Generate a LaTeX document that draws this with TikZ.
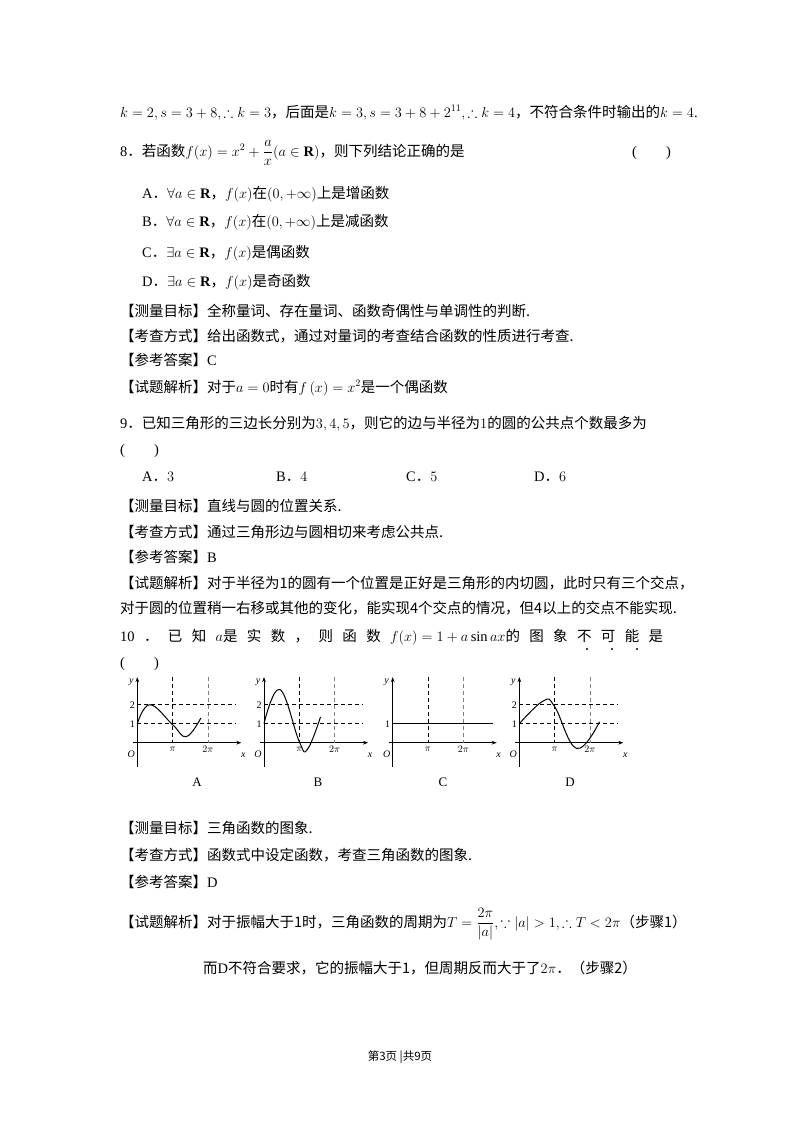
\documentclass[tikz,border=0pt]{standalone}
\usepackage{amsmath,amssymb}
\usepackage{fontspec}
\setmainfont{Liberation Serif}
\newfontfamily\cjk{Noto Sans CJK SC}
\newcommand\zh[1]{{\cjk #1}}
\usetikzlibrary{arrows.meta}
\begin{document}
\begin{tikzpicture}[x=1pt,y=-1pt,
  txt/.style={anchor=base west,inner sep=0pt,font=\fontsize{14.5}{17}\selectfont},
  dsh/.style={dashed,line width=0.8pt,dash pattern=on 4pt off 3pt},
  ldsh/.style={dashed,line width=0.5pt,gray,dash pattern=on 4pt off 3pt},
  ax/.style={line width=0.8pt,-{Stealth[length=5pt]}},
  crv/.style={line width=1pt},
  gl/.style={inner sep=0pt,font=\fontsize{10}{12}\itshape}]
\useasboundingbox (0,0) rectangle (800,1132);
\node[txt] (l1) at (120,117) {$k=2,s=3+8,\therefore k=3$\zh{，后面是}$k=3,s=3+8+2^{11},\therefore k=4$\zh{，不符合条件时输出的}$k=4$.};
\node[txt] (q8) at (120,156) {8\zh{．若函数}$f(x)=x^2+\dfrac{a}{x}(a\in\mathbf R)$\zh{，则下列结论正确的是}};
\node[txt] (q8p) at (632,156) {(\qquad)};
\node[txt] (o8a) at (142,198) {A\zh{．}$\forall a\in\mathbf R$\zh{，}$f(x)$\zh{在}$(0,+\infty)$\zh{上是增函数}};
\node[txt] (o8b) at (142,226) {B\zh{．}$\forall a\in\mathbf R$\zh{，}$f(x)$\zh{在}$(0,+\infty)$\zh{上是减函数}};
\node[txt] (o8c) at (142,257) {C\zh{．}$\exists a\in\mathbf R$\zh{，}$f(x)$\zh{是偶函数}};
\node[txt] (o8d) at (142,286) {D\zh{．}$\exists a\in\mathbf R$\zh{，}$f(x)$\zh{是奇函数}};
\node[txt] (m8) at (120,316) {\zh{【测量目标】全称量词、存在量词、函数奇偶性与单调性的判断.}};
\node[txt] (k8) at (120,341) {\zh{【考查方式】给出函数式，通过对量词的考查结合函数的性质进行考查.}};
\node[txt] (a8) at (120,365) {\zh{【参考答案】}C};
\node[txt] (s8) at (120,392) {\zh{【试题解析】对于}$a=0$\zh{时有}$f\left(x\right)=x^2$\zh{是一个偶函数}};
\node[txt] (q9) at (120,428) {9\zh{．已知三角形的三边长分别为}$3,4,5$\zh{，则它的边与半径为}$1$\zh{的圆的公共点个数最多为}};
\node[txt] (q9p) at (120,454) {(\qquad)};
\node[txt] (o9a) at (142,481) {A\zh{．}$3$};
\node[txt] (o9b) at (276,481) {B\zh{．}$4$};
\node[txt] (o9c) at (406,481) {C\zh{．}$5$};
\node[txt] (o9d) at (534,481) {D\zh{．}$6$};
\node[txt] (m9) at (120,511) {\zh{【测量目标】直线与圆的位置关系.}};
\node[txt] (k9) at (120,537) {\zh{【考查方式】通过三角形边与圆相切来考虑公共点.}};
\node[txt] (a9) at (120,562) {\zh{【参考答案】}B};
\node[txt] (s9) at (120,588) {\zh{【试题解析】对于半径为1的圆有一个位置是正好是三角形的内切圆，此时只有三个交点，}};
\node[txt] (s9b) at (120,613) {\zh{对于圆的位置稍一右移或其他的变化，能实现4个交点的情况，但4以上的交点不能实现.}};
\node[txt] (q10) at (120,641) {\makebox[543pt][s]{10\hfill \zh{．}\hfill \zh{已}\hfill\zh{知}\hfill $a$\zh{是}\hfill\zh{实}\hfill\zh{数}\hfill\zh{，}\hfill\zh{则}\hfill\zh{函}\hfill\zh{数}\hfill $f(x)=1+a\sin ax$\zh{的}\hfill\zh{图}\hfill\zh{象}\hfill\zh{不}\hfill\zh{可}\hfill\zh{能}\hfill\zh{是}}};
\foreach \dx in {587,612,637} \fill (\dx,649) circle (1.2pt);
\node[txt] (q10p) at (120,667) {(\qquad)};
% graphs
\foreach \ox/\nm/\lab/\lx in {137.3/A/A/197,264/B/B/318,392.7/C/C/443,519.3/D/D/570}{
\begin{scope}[shift={(\ox pt,-742.7pt)},x=11.24pt,y=19pt]
  \draw[ax] (-4pt,0) -- ++(108pt,0);
  \draw[ax] (0,-1.26) -- (0,3.45);
  \node[gl] at (-6pt,3.2) {y};
  \node[gl] at (106pt,-0.65) {x};
  \node[gl] at (-6pt,-0.6) {O};
  \node[gl,font=\fontsize{10}{12}\selectfont] at (pi,0) [yshift=-7pt] {$\pi$};
  \node[gl,font=\fontsize{10}{12}\selectfont] at (2*pi,0) [yshift=-7pt] {$2\pi$};
  \node[gl,font=\fontsize{10}{12}\selectfont] at (-5pt,1) {1};
  \draw[dsh] (pi,3.45) -- (pi,0);
  \draw[ldsh] (2*pi,3.45) -- (2*pi,0);
  \node[font=\fontsize{13}{15}\selectfont,inner sep=0pt] (lab\nm) at (\lx pt-\ox pt,-39.3pt) {\lab};
\end{scope}}
\foreach \ox in {137.3,264,519.3}{
  \begin{scope}[shift={(\ox pt,-742.7pt)},x=11.24pt,y=19pt]
   \draw[dsh] (0,2) -- (99pt,2); \draw[dsh] (0,1) -- (99pt,1);
   \node[inner sep=0pt,font=\fontsize{10}{12}\selectfont] at (-5pt,2) {2};
  \end{scope}}
\begin{scope}[shift={(137.3pt,-742.7pt)},x=11.24pt,y=19pt]
 \draw[crv] plot[smooth,tension=0.7] coordinates {(0,1) (0.36*pi,2) (pi,0.95) (1.39*pi,0.32) (1.8*pi,1.3)};
\end{scope}
\begin{scope}[shift={(264pt,-742.7pt)},x=11.24pt,y=19pt]
 \draw[crv] plot[smooth,tension=0.7] coordinates {(0,1) (0.45*pi,2.8) (pi,0.05) (1.23*pi,-0.35) (1.6*pi,1.35)};
\end{scope}
\begin{scope}[shift={(392.7pt,-742.7pt)},x=11.24pt,y=19pt]
 \draw[crv] (0,1) -- (2.85*pi,1);
\end{scope}
\begin{scope}[shift={(519.3pt,-742.7pt)},x=11.24pt,y=19pt]
 \draw[crv] plot[smooth,tension=0.7] coordinates {(0,1) (0.68*pi,2.2) (pi,1.9) (1.62*pi,-0.3) (2.27*pi,1.1)};
\end{scope}
\node[txt] (m10) at (120,833) {\zh{【测量目标】三角函数的图象.}};
\node[txt] (k10) at (120,860) {\zh{【考查方式】函数式中设定函数，考查三角函数的图象.}};
\node[txt] (a10) at (120,887) {\zh{【参考答案】}D};
\node[txt] (s10) at (120,927) {\zh{【试题解析】对于振幅大于1时，三角函数的周期为}$T=\dfrac{2\pi}{|a|},\because|a|>1,\therefore T<2\pi$\zh{（步骤1）}};
\node[txt] (s10b) at (203,973) {\zh{而}D\zh{不符合要求，它的振幅大于1，但周期反而大于了}$2\pi$\zh{．（步骤2）}};
\node[inner sep=0pt,font=\fontsize{11.5}{13}\selectfont] (ft) at (400,1057) {\zh{第3页\ |共9页}};
\end{tikzpicture}
\end{document}
